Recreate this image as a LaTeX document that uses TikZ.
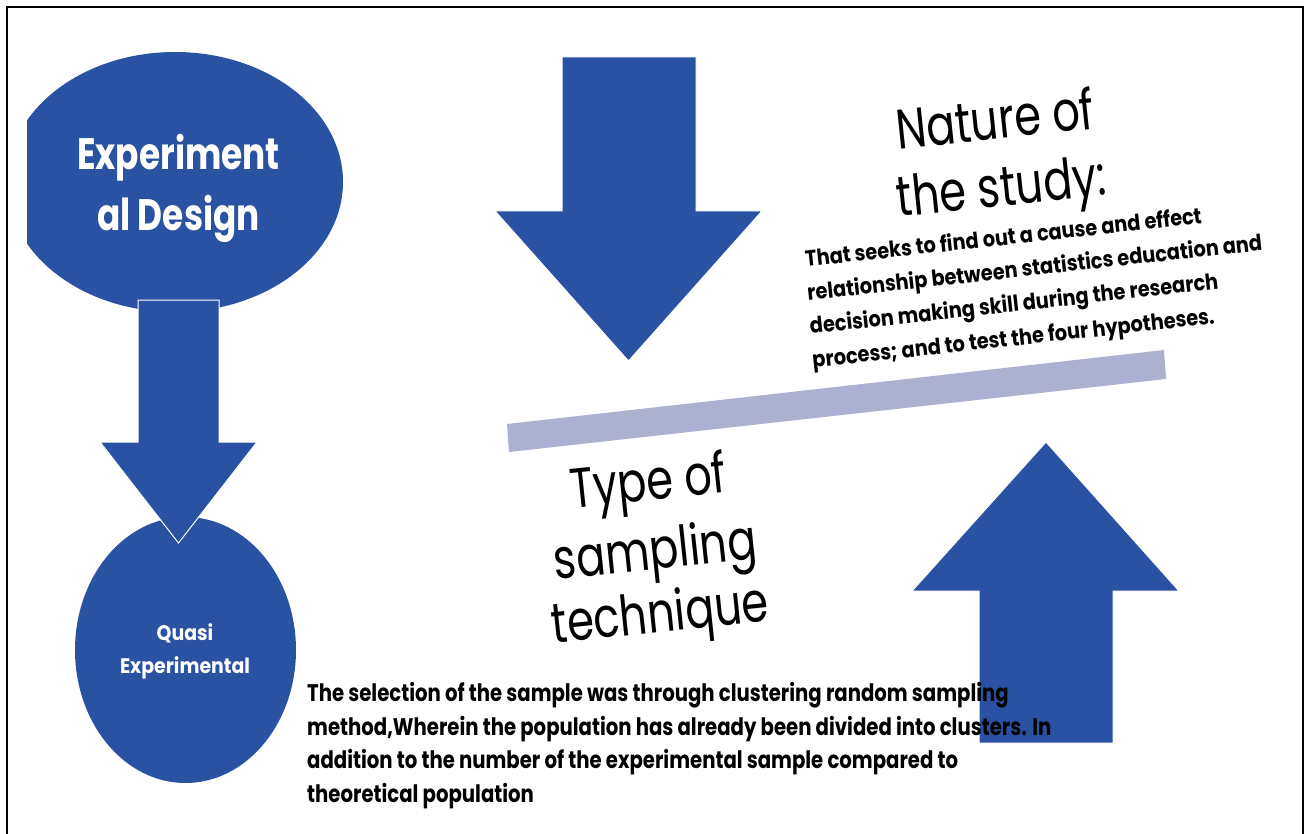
\documentclass[tikz,border=0pt]{standalone}
\usepackage{fontspec}
\setmainfont{Poppins}
\usetikzlibrary{shapes.geometric}
\definecolor{deepblue}{HTML}{2A52A3}
\definecolor{lavender}{HTML}{ADB1D1}
\begin{document}
\begin{tikzpicture}[x=1pt,y=-1pt,
  blob/.style={ellipse, fill=deepblue, inner sep=0pt},
  arrowshape/.style={fill=deepblue, draw=white, line width=1pt, line join=miter},
  whitehead/.style={inner sep=0pt, anchor=base, text=white,
    font=\fontsize{44}{44}\selectfont\bfseries\addfontfeature{FakeStretch=0.78}},
  whitesmall/.style={inner sep=0pt, anchor=base, text=white,
    font=\fontsize{21}{21}\selectfont\bfseries\addfontfeature{FakeStretch=0.9}},
  title/.style={inner sep=0pt, anchor=base, rotate=6,
    font=\fontsize{56}{56}\selectfont\addfontfeature{FakeStretch=0.77}},
  slanted/.style={inner sep=0pt, anchor=base west, rotate=6.3,
    font=\fontsize{22}{22}\selectfont\bfseries\addfontfeature{FakeStretch=0.88}},
  para/.style={inner sep=0pt, anchor=base west,
    font=\fontsize{24}{24}\selectfont\bfseries\addfontfeature{FakeStretch=0.82}}]
\useasboundingbox (0,0) rectangle (1305,834);
\fill[white] (0,0) rectangle (1305,834);
\draw[line width=2pt] (6.5,834) -- (6.5,7) -- (1302.5,7) -- (1302.5,834);

% main design ellipse, cut at the left margin
\begin{scope}
  \clip (27,0) rectangle (1305,834);
  \node[blob, minimum width=336pt, minimum height=260pt] (design) at (175,182) {};
\end{scope}
\node[blob, minimum width=221pt, minimum height=266pt] (quasi) at (185.5,650) {};

% arrow from design to quasi-experimental
\draw[arrowshape] (138,300) -- (219,300) -- (219,442) -- (257,442) -- (178.5,543)
  -- (100,442) -- (138,442) -- cycle;
% downward arrow at the top
\draw[arrowshape] (562,57) -- (696,57) -- (696,211) -- (762,211) -- (628.5,361)
  -- (495,211) -- (562,211) -- cycle;
% upward arrow at the bottom right
\draw[arrowshape] (979,743) -- (1113,743) -- (1113,591) -- (1179,591) -- (1046,442)
  -- (912,591) -- (979,591) -- cycle;

% tilted bar
\fill[lavender] (507,424) -- (1164,350) -- (1166,379) -- (509,452) -- cycle;

% ellipse labels
\node[whitehead] (d1) at (178.5,170) {Experiment};
\node[whitehead] (d2) at (178.5,231) {al Design};
\node[whitesmall] (q1) at (185,640) {Quasi};
\node[whitesmall] (q2) at (185,673) {Experimental};

% nature of the study
\node[title] (n1) at (997,139) {Nature of};
\node[title] (n2) at (1003,206) {the study:};
\node[slanted] (s1) at (806,267) {That seeks to find out a cause and effect};
\node[slanted] (s2) at (808,300.5) {relationship between statistics education and};
\node[slanted] (s3) at (810.5,334) {decision making skill during the research};
\node[slanted] (s4) at (813,368) {process; and to test the four hypotheses.};

% type of sampling technique
\node[title] (t1) at (650,500) {Type of};
\node[title] (t2) at (657,569) {sampling};
\node[title] (t3) at (662,632) {technique};

\node[para] (p1) at (307,701) {The selection of the sample was through clustering random sampling};
\node[para] (p2) at (307,735) {method,Wherein the population has already been divided into clusters. In};
\node[para] (p3) at (307,768) {addition to the number of the experimental sample compared to};
\node[para] (p4) at (307,802) {theoretical population};
\end{tikzpicture}
\end{document}
